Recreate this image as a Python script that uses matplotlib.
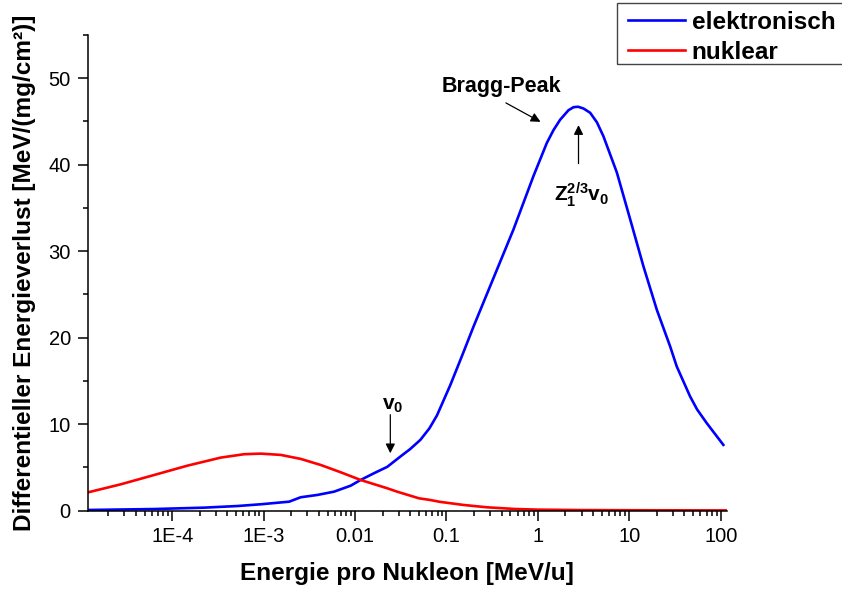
import matplotlib
matplotlib.use("Agg")
import matplotlib.pyplot as plt
from matplotlib.patches import Rectangle
from matplotlib.ticker import FixedLocator, LogLocator, NullFormatter, MultipleLocator

plt.rcParams['font.family'] = ['Liberation Sans', 'DejaVu Sans']
plt.rcParams['mathtext.fontset'] = 'custom'
plt.rcParams['mathtext.rm'] = 'Liberation Sans'
plt.rcParams['mathtext.it'] = 'Liberation Sans:italic'
plt.rcParams['mathtext.bf'] = 'Liberation Sans:bold'

# Electronic stopping power (MeV/(mg/cm^2)) vs energy per nucleon (MeV/u)
e_elec = [1.2e-5, 6.36e-5, 2.24e-4, 5.2e-4, 9.3e-4, 1.9e-3, 2.54e-3, 3.87e-3,
          5.9e-3, 8.95e-3, 0.0115, 0.0161, 0.0225, 0.0313, 0.040, 0.0518,
          0.065, 0.0787, 0.110, 0.148, 0.198, 0.327, 0.54, 0.895, 1.25, 1.48,
          1.75, 2.16, 2.45, 2.75, 3.15, 3.73, 4.42, 5.2, 7.3, 10.2, 14.3,
          20.0, 27.9, 33.0, 46.2, 55.0, 70.3, 106.7]
s_elec = [0.06, 0.17, 0.33, 0.52, 0.72, 1.02, 1.53, 1.8,
          2.18, 2.87, 3.53, 4.31, 5.05, 6.24, 7.1, 8.17,
          9.5, 11.0, 14.5, 17.9, 21.3, 26.9, 32.5, 38.7, 42.5, 44.0,
          45.2, 46.3, 46.65, 46.7, 46.5, 46.0, 44.9, 43.3, 39.1, 33.7, 28.2,
          23.2, 19.0, 16.66, 13.19, 11.7, 10.1, 7.59]

# Nuclear stopping power
e_nucl = [1.2e-5, 2.74e-5, 6.36e-5, 1.47e-4, 3.4e-4, 6.1e-4, 9.3e-4, 1.54e-3,
          2.54e-3, 4.2e-3, 6.97e-3, 0.0115, 0.0225, 0.0288, 0.05, 0.066,
          0.085, 0.154, 0.277, 0.55, 1.0, 3.0, 10.0, 117]
s_nucl = [2.1, 3.03, 4.11, 5.19, 6.12, 6.51, 6.58, 6.43,
          5.97, 5.27, 4.42, 3.53, 2.57, 2.18, 1.41, 1.22,
          1.0, 0.64, 0.37, 0.18, 0.1, 0.05, 0.03, 0.01]

x_ticks = [1e-4, 1e-3, 1e-2, 1e-1, 1, 10, 100]
x_ticklabels = ["1E-4", "1E-3", "0.01", "0.1", "1", "10", "100"]
y_ticks = [0, 10, 20, 30, 40, 50]

W, H = 842, 592
fig = plt.figure(figsize=(W / 100, H / 100), dpi=100)
ax = fig.add_axes([87.7 / W, 1 - 510.5 / H, (727 - 87.7) / W, (510.5 - 35) / H])

l1, = ax.plot(e_elec, s_elec, color='#0000ff', lw=1.9, label='elektronisch',
              solid_joinstyle='round')
l2, = ax.plot(e_nucl, s_nucl, color='#ff0000', lw=1.9, label='nuklear',
              solid_joinstyle='round')

ax.set_xscale('log')
ax.set_xlim(1.19e-5, 117)
ax.set_ylim(0, 55)

ax.xaxis.set_major_locator(FixedLocator(x_ticks))
ax.set_xticklabels(x_ticklabels)
ax.xaxis.set_minor_locator(LogLocator(base=10, subs=range(2, 10), numticks=20))
ax.xaxis.set_minor_formatter(NullFormatter())
ax.yaxis.set_major_locator(FixedLocator(y_ticks))
ax.yaxis.set_minor_locator(MultipleLocator(5))

for s in ['top', 'right']:
    ax.spines[s].set_visible(False)
for s in ['left', 'bottom']:
    ax.spines[s].set_linewidth(1.1)

ax.tick_params(which='major', direction='out', length=7.2, width=1.1, labelsize=14.5, pad=5)
ax.tick_params(which='minor', direction='out', length=3.8, width=1.1)

ax.set_xlabel('Energie pro Nukleon [MeV/u]', fontsize=17.6, fontweight='bold', labelpad=11)
ax.set_ylabel('Differentieller Energieverlust [MeV/(mg/cm²)]', fontsize=17.6,
              fontweight='bold', labelpad=9)

arrow = dict(arrowstyle='-|>', color='black', lw=0.9, mutation_scale=14)

ax.annotate('', xy=(0.0243, 6.3), xytext=(0.0243, 11.4), arrowprops=arrow)
ax.text(0.0255, 11.1, r'$\mathbf{v_0}$', fontsize=15, ha='center', va='bottom')

ax.annotate('', xy=(2.78, 44.9), xytext=(2.78, 39.8), arrowprops=arrow)
ax.text(3.0, 38.2, r'$\mathbf{Z_1^{2/3}v_0}$', fontsize=15, ha='center', va='top')

ax.annotate('', xy=(1.135, 44.8), xytext=(0.42, 47.3), arrowprops=arrow)
ax.text(0.404, 47.8, 'Bragg-Peak', fontsize=15.5, fontweight='bold', ha='center', va='bottom')

# Legend entries without their own frame; the box is drawn separately
fig.legend(handles=[l1, l2], loc='upper left', bbox_to_anchor=(616.7 / W, 1 + 0.3 / H),
           frameon=False, prop={'size': 17.5, 'weight': 'bold'}, handlelength=2.35,
           handletextpad=0.28, labelspacing=0.3, borderpad=0.45, borderaxespad=0)
fig.patches.append(Rectangle((616.7 / W, 1 - 64 / H), (850 - 616.7) / W, (64 - 2.7) / H,
                             transform=fig.transFigure, fill=False,
                             edgecolor='#444444', linewidth=1.0))

fig.savefig('out.png', dpi=100)
